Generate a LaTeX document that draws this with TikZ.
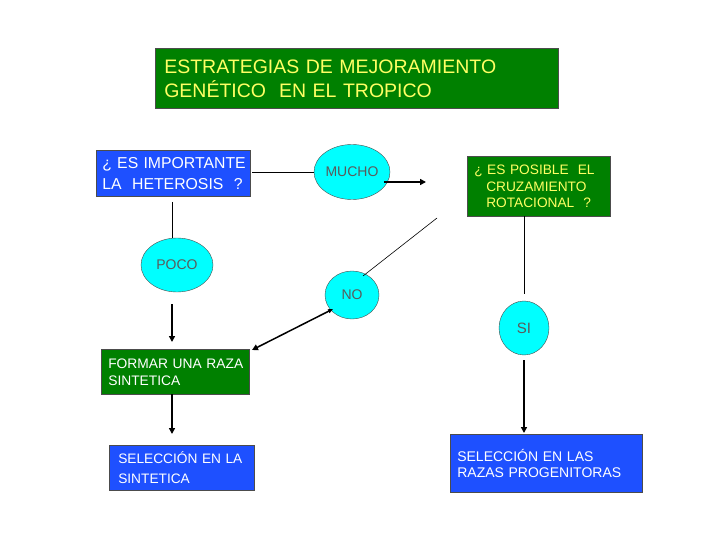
\documentclass[tikz,border=0pt]{standalone}
\usepackage{fontspec}
\setmainfont{Liberation Sans}
\usetikzlibrary{shapes.geometric,arrows.meta}
\definecolor{dg}{RGB}{0,128,0}
\definecolor{bl}{RGB}{30,80,255}
\definecolor{cy}{RGB}{0,255,255}
\definecolor{yl}{RGB}{255,255,100}
\definecolor{gt}{RGB}{90,90,90}
\tikzset{
  box/.style={draw=black!70, line width=0.6pt, anchor=north west, align=left, inner sep=0pt},
  gbox/.style={box, fill=dg, text=yl},
  bbox/.style={box, fill=bl, text=white},
  oval/.style={ellipse, draw=black!70, fill=cy, text=gt, inner sep=0pt},
  thin/.style={line width=0.6pt},
  thick/.style={line width=1.5pt, -{Triangle[length=6pt,width=6pt]}},
}
\begin{document}
\begin{tikzpicture}[x=1pt,y=-1pt]
\useasboundingbox (0,0) rectangle (720,540);
\node[gbox, minimum width=403pt, minimum height=60pt, font=\fontsize{19.5}{24}\selectfont, text width=403pt] (t) at (155,48) {\hspace*{9pt}ESTRATEGIAS DE MEJORAMIENTO\\\hspace*{9pt}GENÉTICO \ EN EL TROPICO};
\node[bbox, minimum width=154pt, minimum height=46pt, font=\fontsize{15.8}{21}\selectfont, text width=154pt] (q1) at (96,150) {\hspace*{6pt}¿ ES IMPORTANTE\\\hspace*{6pt}LA \ HETEROSIS \ ?};
\node[gbox, minimum width=143pt, minimum height=60pt, font=\fontsize{13.7}{16.5}\selectfont, text width=143pt] (q2) at (467,156) {\hspace*{7pt}¿ ES POSIBLE \ EL\\\hspace*{19pt}CRUZAMIENTO\\\hspace*{19pt}ROTACIONAL \ ?};
\node[gbox, text=white, minimum width=148pt, minimum height=45pt, font=\fontsize{13.8}{17}\selectfont, text width=148pt] (f) at (101,349) {\hspace*{7pt}FORMAR UNA RAZA\\\hspace*{7pt}SINTETICA};
\node[bbox, minimum width=145pt, minimum height=45pt, font=\fontsize{13.7}{20}\selectfont, text width=145pt] (s1) at (109,445) {\hspace*{9pt}SELECCIÓN EN LA\\\hspace*{9pt}SINTETICA};
\node[bbox, minimum width=192pt, minimum height=58pt, font=\fontsize{14}{16.5}\selectfont, text width=192pt] (s2) at (450,434) {\hspace*{7pt}SELECCIÓN EN LAS\\\hspace*{7pt}RAZAS PROGENITORAS\\[16pt]};
\node[oval, minimum width=76pt, minimum height=55pt, font=\fontsize{14}{15}\selectfont] (m) at (352,172) {MUCHO};
\node[oval, minimum width=72pt, minimum height=54pt, font=\fontsize{14}{15}\selectfont] (p) at (177,265) {POCO};
\node[oval, minimum width=54pt, minimum height=48pt, font=\fontsize{14}{15}\selectfont] (n) at (352,295) {NO};
\node[oval, minimum width=50pt, minimum height=54pt, font=\fontsize{15}{15}\selectfont] (si) at (524,328) {SI};
\coordinate (a1) at (252,172); \coordinate (a2) at (314,172);
\draw[thin] (a1) -- (a2);
\coordinate (b1) at (384,182); \coordinate (b2) at (426,182);
\draw[thick] (b1) -- (b2);
\coordinate (c1) at (172,202); \coordinate (c2) at (172,238);
\draw[thin] (c1) -- (c2);
\coordinate (d1) at (172,304); \coordinate (d2) at (172,342);
\draw[thick] (d1) -- (d2);
\coordinate (e1) at (437,218); \coordinate (e2) at (363,276);
\draw[thin] (e1) -- (e2);
\coordinate (g1) at (333,309); \coordinate (g2) at (252,350);
\draw[thick,{Triangle[length=5pt,width=4pt]}-{Triangle[length=6pt,width=6pt]}] (g1) -- (g2);
\coordinate (h1) at (524,216); \coordinate (h2) at (524,294);
\draw[thin] (h1) -- (h2);
\coordinate (i1) at (524,360); \coordinate (i2) at (524,433);
\draw[thick] (i1) -- (i2);
\coordinate (j1) at (172,394); \coordinate (j2) at (172,434);
\draw[thick] (j1) -- (j2);
\end{tikzpicture}
\end{document}
